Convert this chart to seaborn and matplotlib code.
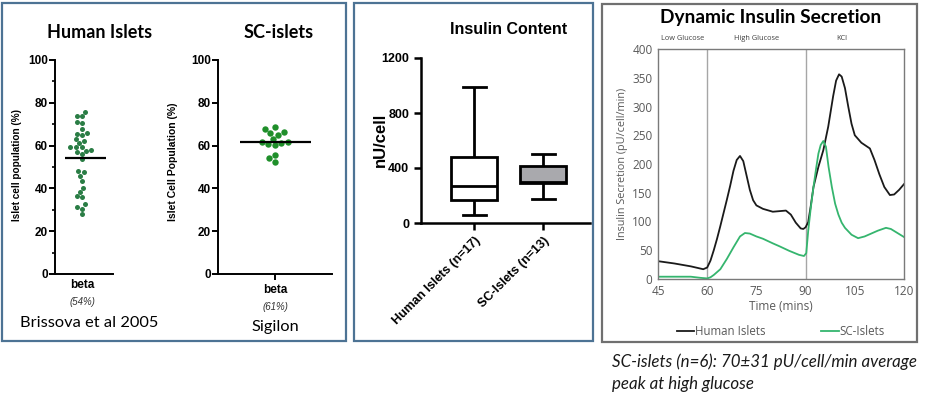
import numpy as np
import pandas as pd
import matplotlib
matplotlib.use("Agg")
import matplotlib.pyplot as plt
import seaborn as sns

# ---------------- data ----------------
human_beta = [73.8, 73.8, 75.7, 70.4, 71.2, 67.6, 65.4, 65.7, 65.1, 62.9, 62.0, 61.1,
              59.2, 59.2, 59.5, 57.9, 57.0, 57.6, 56.1, 53.7, 48.3, 47.7, 45.8, 43.6,
              40.3, 38.3, 36.1, 36.4, 31.2, 32.6, 30.5, 28.0]
sc_beta = [68.8, 66.0, 66.5, 67.6, 65.0, 61.7, 60.7, 63.2, 61.4, 60.4, 61.7, 55.6, 54.1, 52.5]

box_groups = ["Human Islets (n=17)", "SC-Islets (n=13)"]
# five-number summaries: min, Q1, median, Q3, max
human_content = [57, 165, 271, 478, 990]
sc_content = [175, 288, 298, 412, 502]

human_t = [45, 50, 55, 58.8, 60, 61, 62, 63, 64, 65, 66, 67, 68, 69, 70, 71, 72, 73, 74, 75,
           77, 80, 82, 84, 85.5, 87, 88.5, 89.3, 90, 90.8, 91.6, 92.4, 93.9, 95.4, 96.9,
           98.4, 99.3, 100.2, 101, 102, 103, 104, 105, 107, 109.6, 111, 112.5, 114, 115.7,
           117, 118.5, 120]
human_v = [31, 27, 22, 17, 20, 32, 50, 70, 92, 115, 138, 162, 188, 207, 214, 205, 180, 155,
           137, 128, 122, 117, 118, 119, 112, 98, 88, 87, 90, 99, 128, 160, 195, 224, 265,
           318, 345, 356, 352, 332, 300, 270, 250, 237, 227, 207, 182, 160, 146, 147, 155, 165]
sc_t = [45, 50, 55, 58, 60, 61, 62, 64, 66, 68, 70, 71.5, 73, 75, 77, 80, 82, 85, 88, 89.5,
        90.2, 90.8, 91.6, 92.4, 93.2, 93.9, 94.6, 95.4, 96.2, 97, 98, 99, 100, 101, 102, 104,
        106, 108, 110, 112, 114.5, 116, 118, 120]
sc_v = [4, 4, 4, 2, 1, 3, 7, 17, 35, 55, 74, 80, 79, 74, 70, 62, 57, 49, 42, 40, 45, 84, 125,
        160, 192, 218, 233, 240, 230, 195, 160, 131, 112, 98, 89, 77, 71, 74, 79, 84, 89, 87,
        80, 73]

time_ticks = [45, 60, 75, 90, 105, 120]
sec_ticks = [0, 50, 100, 150, 200, 250, 300, 350, 400]
phase_labels = ["Low Glucose", "High Glucose", "KCl"]
phase_pos = [52.6, 75.2, 101.1]

# ---------------- figure ----------------
W, H = 936, 403
fig = plt.figure(figsize=(W / 100, H / 100), dpi=100)
fig.patch.set_facecolor("white")


def rect(l, t, r, b):
    return [l / W, 1 - b / H, (r - l) / W, (b - t) / H]


def ftext(x, y, s, **kw):
    fig.text(x / W, 1 - y / H, s, ha=kw.pop("ha", "center"), va=kw.pop("va", "center"), **kw)


ARIAL = "Liberation Sans"
GOTH = "Lato"
CAL = "Open Sans"

# frames
for (x0, y0, x1, y1, c) in [(2, 3, 346, 341, "#4d7394"), (354, 3, 593, 341, "#4d7394"),
                            (602, 4, 917, 342, "#707070")]:
    fig.add_artist(plt.Rectangle((x0 / W, 1 - y1 / H), (x1 - x0) / W, (y1 - y0) / H,
                                 transform=fig.transFigure, fill=False, ec=c, lw=1.6))


def dot_panel(ax, vals, color, size, minor, xtick, lims, line_span):
    df = pd.DataFrame({"cell": ["beta"] * len(vals), "pct": vals})
    sns.swarmplot(data=df, x="cell", y="pct", ax=ax, color=color, size=size)
    ax.set_xlim(*lims)
    ax.set_ylim(0, 100)
    ax.hlines(np.mean(vals), line_span[0], line_span[1], color="black", lw=1.6, zorder=5)
    for s in ["top", "right"]:
        ax.spines[s].set_visible(False)
    for s in ["left", "bottom"]:
        ax.spines[s].set_linewidth(1.4)
        ax.spines[s].set_color("black")
    ax.set_yticks([0, 20, 40, 60, 80, 100])
    if minor:
        ax.set_yticks([10, 30, 50, 70, 90], minor=True)
        ax.tick_params(axis="y", which="minor", length=2.5, width=1.2)
    ax.tick_params(axis="y", which="major", length=4, width=1.4, labelsize=8.5, pad=1)
    for lab in ax.get_yticklabels():
        lab.set_fontweight("bold")
        lab.set_family(ARIAL)
    ax.set_xticks([0])
    ax.set_xticklabels([""])
    ax.tick_params(axis="x", length=4 if xtick else 0, width=1.4)
    ax.set_xlabel("")
    ax.set_ylabel("")


ax1 = fig.add_axes(rect(55, 60, 113, 274))
dot_panel(ax1, human_beta, "#2a7d45", 3.6, True, False, (-0.47, 0.53), (-0.30, 0.41))
ax2 = fig.add_axes(rect(218, 60, 332, 274))
dot_panel(ax2, sc_beta, "#1f8f2a", 4.6, False, True, (-0.5, 0.5), (-0.31, 0.32))

ftext(100, 32, "Human Islets", family=GOTH, fontweight="bold", fontsize=13)
ftext(279, 32, "SC-islets", family=GOTH, fontweight="bold", fontsize=13)
ftext(17, 165, "Islet cell population (%)", family=ARIAL, fontweight="bold", fontsize=7.2,
      rotation=90)
ftext(173, 162, "Islet Cell Population (%)", family=ARIAL, fontweight="bold", fontsize=7.5,
      rotation=90)
ftext(82, 285, "beta", family=ARIAL, fontweight="bold", fontsize=8.5)
ftext(82, 302, "(54%)", family=ARIAL, style="italic", fontsize=7, color="#333333")
ftext(89, 323, "Brissova et al 2005", family=GOTH, fontsize=11.8)
ftext(275, 290, "beta", family=ARIAL, fontweight="bold", fontsize=8.5)
ftext(275, 307, "(61%)", family=ARIAL, style="italic", fontsize=7, color="#333333")
ftext(275, 327, "Sigilon", family=GOTH, fontsize=11.8)

# ---------------- box panel ----------------
ax3 = fig.add_axes(rect(421, 58, 590, 223))
dfb = pd.DataFrame({"group": [box_groups[0]] * len(human_content) + [box_groups[1]] * len(sc_content),
                    "val": human_content + sc_content})
sns.boxplot(data=dfb, x="group", y="val", hue="group", ax=ax3, whis=(0, 100), width=0.67,
            palette={box_groups[0]: "white", box_groups[1]: "#a8a8ae"}, linecolor="black",
            linewidth=2, legend=False, order=box_groups)
ax3.set_xlim(-0.77, 1.68)
ax3.set_ylim(0, 1200)
ax3.set_yticks([0, 400, 800, 1200])
for s in ["top", "right"]:
    ax3.spines[s].set_visible(False)
for s in ["left", "bottom"]:
    ax3.spines[s].set_linewidth(1.8)
    ax3.spines[s].set_color("black")
ax3.tick_params(axis="both", length=5, width=1.8, labelsize=9)
ax3.set_xticks([0, 1])
ax3.set_xticklabels(box_groups, rotation=45, ha="right", rotation_mode="anchor",
                    fontsize=9, fontweight="bold", family=ARIAL)
for lab in ax3.get_yticklabels():
    lab.set_fontweight("bold")
    lab.set_family(ARIAL)
ax3.set_xlabel("")
ax3.set_ylabel("")
ftext(380, 140, "nU/cell", family=ARIAL, fontweight="bold", fontsize=12, rotation=90)
ftext(509, 30, "Insulin Content", family=ARIAL, fontweight="bold", fontsize=11.5)

# ---------------- dynamic secretion ----------------
ax4 = fig.add_axes(rect(658, 49, 904, 279))
dfl = pd.DataFrame({"time": human_t + sc_t, "val": human_v + sc_v,
                    "series": ["Human Islets"] * len(human_t) + ["SC-Islets"] * len(sc_t)})
ax4.axvline(60, color="#a6a6a6", lw=1.0, zorder=1)
ax4.axvline(90, color="#a6a6a6", lw=1.0, zorder=1)
sns.lineplot(data=dfl, x="time", y="val", hue="series", ax=ax4,
             palette={"Human Islets": "#1a1a1a", "SC-Islets": "#35b56e"}, lw=1.3)
ax4.set_xlim(45, 120)
ax4.set_ylim(0, 400)
ax4.set_xticks(time_ticks)
ax4.set_yticks(sec_ticks)
ax4.tick_params(length=0, labelsize=8.5, labelcolor="#595959", pad=4)
for lab in ax4.get_xticklabels() + ax4.get_yticklabels():
    lab.set_family(CAL)
for s in ax4.spines.values():
    s.set_color("#7a7a7a")
    s.set_linewidth(1.0)
ax4.set_xlabel("Time (mins)", family=CAL, fontsize=8.5, color="#595959", labelpad=2)
ax4.set_ylabel("Insulin Secretion (pU/cell/min)", family=CAL, fontsize=7.8, color="#595959",
               labelpad=3)
for lbl, xp in zip(phase_labels, phase_pos):
    ax4.text(xp, 419, lbl, ha="center", va="center", fontsize=5.3, family=CAL,
             color="#404040", clip_on=False)
leg = ax4.legend(loc="upper center", bbox_to_anchor=(0.5, -0.155), ncol=2, frameon=False,
                 handlelength=1.5, handletextpad=0.1, columnspacing=4.8,
                 prop={"family": CAL, "size": 8.3})
for t in leg.get_texts():
    t.set_color("#595959")

ftext(771, 18, "Dynamic Insulin Secretion", family=GOTH, fontweight="bold", fontsize=13.8)
ftext(612, 362, "SC-islets (n=6): 70±31 pU/cell/min average", family=GOTH, style="italic",
      fontsize=12.2, ha="left", color="#1a1a1a")
ftext(612, 384, "peak at high glucose", family=GOTH, style="italic", fontsize=12.2, ha="left",
      color="#1a1a1a")

fig.savefig("out.png", dpi=100, facecolor="white")
